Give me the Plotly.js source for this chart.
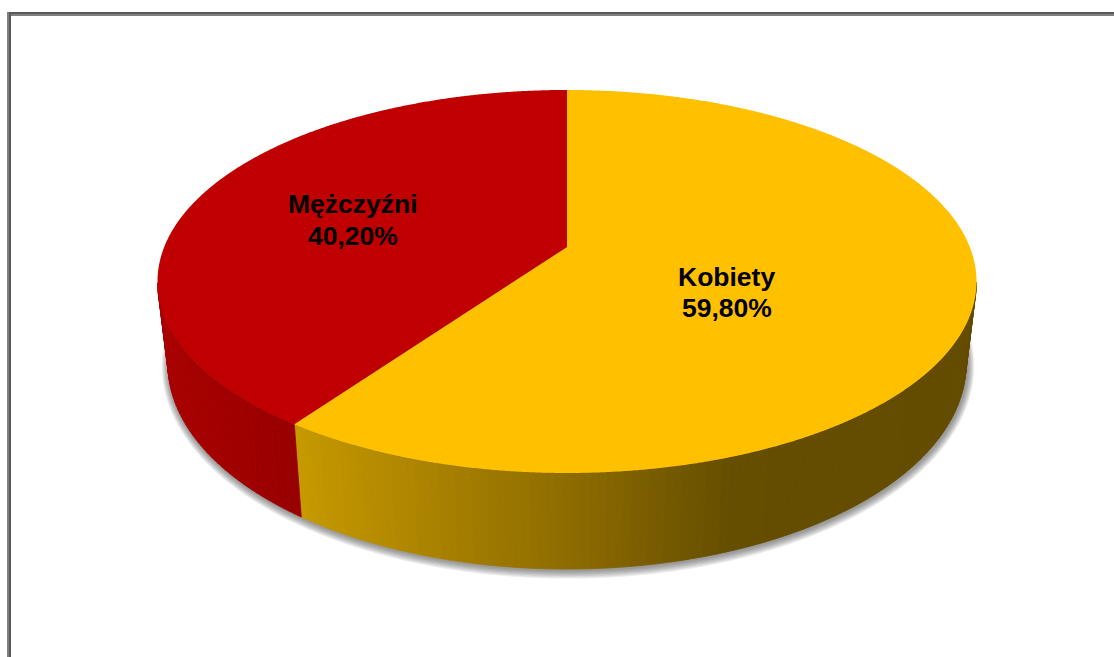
<!DOCTYPE html>
<html>
<head>
<meta charset="utf-8">
<script src="https://cdn.plot.ly/plotly-3.0.1.min.js"></script>
<style>html,body{margin:0;padding:0;background:#fff;overflow:hidden}#chart{width:1114px;height:657px}</style>
</head>
<body>
<div id="chart"></div>
<script>
// Data
const categories = ['Kobiety', 'Mężczyźni'];
const percentages = [59.8, 40.2];
const sliceColors = ['#FFC000', '#C00000'];
const labelX = [726.5, 353];
const nameY = [277, 204];
const valueY = [308, 236];

// Perspective geometry of the disc, in axis units
const K = 0.18;
const topPlane = {cx: 567, cy: 247, a: 402.8, b: 185.3};
const bottomPlane = {cx: 567, cy: 327.1, a: 392.5, b: 198.4};
const yellowStops = [[300, [198, 153, 0]], [480, [160, 122, 0]], [567, [142, 108, 0]], [730, [102, 78, 0]], [1000, [98, 74, 0]]];
const redStops = [[160, [170, 0, 0]], [300, [152, 0, 0]]];

function project(p, t, grow) {
  const u = Math.sin(t), v = Math.cos(t), d = 1 + K * v, g = grow || 0;
  return [p.cx + (p.a + g) * u / d, p.cy - (p.b + g) * v / d];
}
function shade(stops, x) {
  let c = stops[stops.length - 1][1];
  if (x <= stops[0][0]) c = stops[0][1];
  else for (let i = 1; i < stops.length; i++) {
    if (x <= stops[i][0]) {
      const f = (x - stops[i - 1][0]) / (stops[i][0] - stops[i - 1][0]);
      c = stops[i - 1][1].map((s, j) => Math.round(s + (stops[i][1][j] - s) * f));
      break;
    }
  }
  return 'rgb(' + c.join(',') + ')';
}
function poly(pts, color, width) {
  return {
    x: pts.map(p => p[0]), y: pts.map(p => p[1]),
    type: 'scatter', mode: 'lines', fill: 'toself', fillcolor: color,
    line: {color: color, width: width || 0, simplify: false}, hoverinfo: 'skip', showlegend: false
  };
}

const traces = [];
const total = percentages.reduce((a, b) => a + b, 0);
const TAU = Math.PI * 2;

// Soft shadow under the disc
for (let g = 7; g >= 1; g--) {
  const pts = [];
  for (let i = 0; i <= 720; i++) {
    const p = project(bottomPlane, TAU * i / 720, g);
    pts.push([p[0] + 1, p[1] + 1]);
  }
  traces.push(poly(pts, 'rgba(70,70,70,0.10)'));
}

// Slice angles
let acc = 0;
const ranges = percentages.map(v => {
  const r = [acc / total * TAU, (acc + v) / total * TAU];
  acc += v;
  return r;
});

// Side wall
const wallStops = [yellowStops, redStops];
ranges.forEach((r, idx) => {
  const n = Math.ceil((r[1] - r[0]) / TAU * 360);
  for (let i = 0; i < n; i++) {
    const t0 = r[0] + (r[1] - r[0]) * i / n, t1 = r[0] + (r[1] - r[0]) * (i + 1) / n;
    if (Math.cos((t0 + t1) / 2) > -K) continue;
    const a = project(topPlane, t0), b = project(topPlane, t1), c = project(bottomPlane, t1), d = project(bottomPlane, t0);
    const x = (a[0] + b[0] + c[0] + d[0]) / 4;
    traces.push(poly([a, b, c, d, a], shade(wallStops[idx], x), 0.8));
  }
});

// Top face
ranges.forEach((r, idx) => {
  const n = Math.ceil((r[1] - r[0]) / TAU * 1440);
  const centre = [topPlane.cx, topPlane.cy];
  const pts = [centre];
  for (let i = 0; i <= n; i++) pts.push(project(topPlane, r[0] + (r[1] - r[0]) * i / n));
  pts.push(centre);
  traces.push(poly(pts, sliceColors[idx]));
});

const labelFont = {family: '"Liberation Sans", Arial, sans-serif', size: 26.5, color: '#000', weight: 700};
const annotations = [];
categories.forEach((c, i) => {
  annotations.push({x: labelX[i], y: nameY[i], xref: 'x', yref: 'y', showarrow: false, text: c, font: labelFont});
  annotations.push({x: labelX[i], y: valueY[i], xref: 'x', yref: 'y', showarrow: false,
    text: percentages[i].toFixed(2).replace('.', ',') + '%', font: labelFont});
});

const frameDark = '#595959', frameGray = '#808080';
const rect = (x0, y0, x1, y1, c) => ({type: 'rect', xref: 'x', yref: 'y', x0, y0, x1, y1, fillcolor: c, line: {width: 0}, layer: 'below'});
const layout = {
  width: 1114, height: 657,
  margin: {l: 0, r: 0, t: 0, b: 0, pad: 0},
  paper_bgcolor: '#fff', plot_bgcolor: '#fff',
  showlegend: false,
  xaxis: {range: [0, 1114], visible: false, fixedrange: true},
  yaxis: {range: [657, 0], visible: false, fixedrange: true},
  shapes: [
    rect(7, 12, 1114, 14, frameDark),
    rect(7, 14, 1114, 16, frameGray),
    rect(7, 12, 9, 657, frameGray),
    rect(9, 14, 11, 657, frameDark)
  ],
  annotations: annotations
};
Plotly.newPlot('chart', traces, layout, {displayModeBar: false, staticPlot: true});
</script>
</body>
</html>
